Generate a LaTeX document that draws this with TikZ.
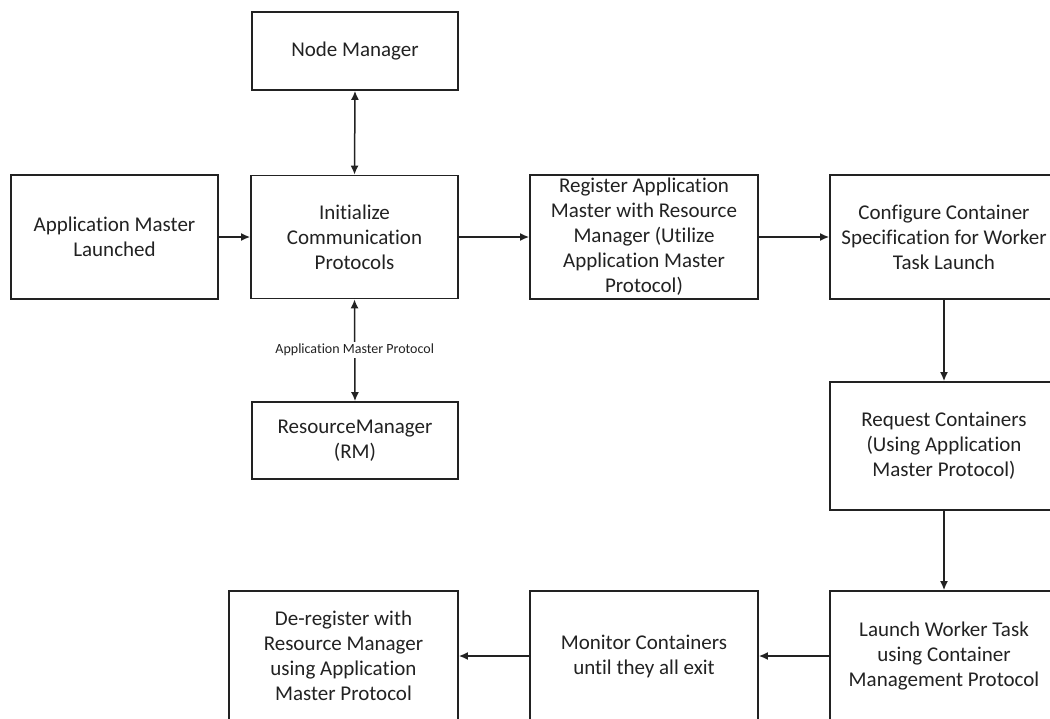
\documentclass[tikz,border=0pt]{standalone}
\usepackage{fontspec}
\setmainfont{Carlito}[Ligatures={NoCommon}]
\usetikzlibrary{arrows.meta}
\definecolor{ink}{HTML}{222222}
% keeps t and i as separate glyphs
\newcommand{\tsep}{t\kern0pt i}
\tikzset{
  stepbox/.style={draw=ink, line width=1.8pt, fill=white, align=center,
    inner sep=0pt, text=ink, font=\fontsize{21}{25}\selectfont},
  flow/.style={draw=ink, line width=1.5pt, -{Latex[length=9pt,width=8pt]}},
  both/.style={draw=ink, line width=1.5pt, {Latex[length=9pt,width=8pt]}-{Latex[length=9pt,width=8pt]}},
  lbl/.style={fill=white, text=ink, inner sep=2pt, font=\fontsize{14}{16}\selectfont}
}
\begin{document}
\begin{tikzpicture}[x=1pt, y=-1pt]
\useasboundingbox (0,0) rectangle (1050,718);
\clip (0,0) rectangle (1050,718);
\fill[white] (0,0) rectangle (1050,718);

% top row and side boxes
\node[stepbox, minimum width=206pt, minimum height=78pt] (nm) at (355,51) {Node Manager};
\node[stepbox, minimum width=207pt, minimum height=124pt] (aml) at (114.5,237) {Applica\tsep on Master\\Launched};
\node[stepbox, minimum width=207pt, minimum height=123pt] (init) at (354.5,237) {Initialize\\Communica\tsep on\\Protocols};
\node[stepbox, minimum width=228pt, minimum height=124pt] (reg) at (644,237) {Register Applica\tsep on\\Master with Resource\\Manager (Utilize\\Applica\tsep on Master\\Protocol)};
\node[stepbox, minimum width=228pt, minimum height=124pt] (conf) at (944,237) {Configure Container\\Specifica\tsep on for Worker\\Task Launch};
\node[stepbox, minimum width=206pt, minimum height=77pt] (rm) at (355,440.5) {ResourceManager\\(RM)};
\node[stepbox, minimum width=228pt, minimum height=128pt] (req) at (944,446) {Request Containers\\(Using Applica\tsep on\\Master Protocol)};

% bottom row
\node[stepbox, minimum width=228pt, minimum height=130pt] (launch) at (944,656) {Launch Worker Task\\using Container\\Management Protocol};
\node[stepbox, minimum width=228pt, minimum height=130pt] (mon) at (644,656) {Monitor Containers\\until they all exit};
\node[stepbox, minimum width=229pt, minimum height=130pt] (dereg) at (343.5,656) {De-register with\\Resource Manager\\using Applica\tsep on\\Master Protocol};

% connectors
\draw[both] (nm.south) -- (init.north);
\draw[both] (init.south) -- node[lbl] {Applica\tsep on Master Protocol} (rm.north);
\draw[flow] (aml) -- (init);
\draw[flow] (init) -- (reg);
\draw[flow] (reg) -- (conf);
\draw[flow] (conf) -- (req);
\draw[flow] (req) -- (launch);
\draw[flow] (launch) -- (mon);
\draw[flow] (mon) -- (dereg);
\end{tikzpicture}
\end{document}
